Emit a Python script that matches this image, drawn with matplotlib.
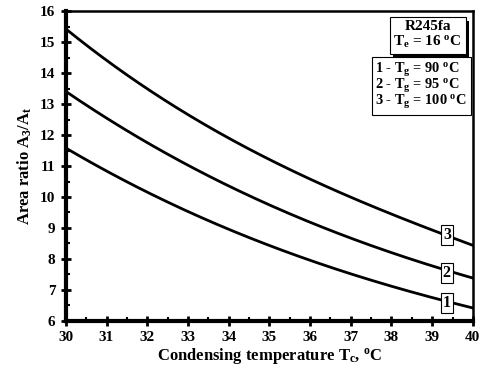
import matplotlib
matplotlib.use("Agg")
import matplotlib.pyplot as plt
import matplotlib.patheffects as pe
from matplotlib.ticker import MultipleLocator
import numpy as np

plt.rcParams['font.family'] = 'Liberation Serif'
plt.rcParams['font.weight'] = 'bold'
plt.rcParams['mathtext.fontset'] = 'custom'
plt.rcParams['mathtext.rm'] = 'Liberation Serif:bold'
plt.rcParams['mathtext.it'] = 'Liberation Serif:bold'
plt.rcParams['mathtext.bf'] = 'Liberation Serif:bold'

# condensing temperature, degC
Tc = [30, 31, 32, 33, 34, 35, 36, 37, 38, 39, 40]
# area ratio A3/At for the three generator temperatures
ratio_90 = [11.57, 10.85, 10.17, 9.53, 8.95, 8.42, 7.96, 7.52, 7.13, 6.76, 6.41]
ratio_95 = [13.40, 12.55, 11.78, 11.02, 10.33, 9.75, 9.19, 8.68, 8.20, 7.78, 7.38]
ratio_100 = [15.42, 14.42, 13.51, 12.65, 11.88, 11.20, 10.60, 10.03, 9.42, 8.92, 8.45]
curve_tags = ['1', '2', '3']
tag_x = 39.36
tag_y = [6.58, 7.56, 8.77]


def smooth(x, y):
    # cubic fit through the read points, just for a clean line
    c = np.polyfit(x, y, 3)
    xs = np.linspace(x[0], x[-1], 200)
    return xs, np.polyval(c, xs)


fig = plt.figure(figsize=(4.84, 3.71), dpi=100)
ax = fig.add_axes([0.136, 0.135, 0.841, 0.835])

for ys in [ratio_90, ratio_95, ratio_100]:
    xs, yy = smooth(Tc, ys)
    ax.plot(xs, yy, color='black', lw=2.0)

for t, yv in zip(curve_tags, tag_y):
    ax.text(tag_x, yv, t, fontsize=11.5, ha='center', va='center', zorder=5,
            bbox=dict(boxstyle='square,pad=0.12', fc='white', ec='black', lw=0.8))

ax.set_xlim(30, 40)
ax.set_ylim(6, 16)
ax.xaxis.set_major_locator(MultipleLocator(1))
ax.xaxis.set_minor_locator(MultipleLocator(0.5))
ax.yaxis.set_major_locator(MultipleLocator(1))
ax.yaxis.set_minor_locator(MultipleLocator(0.5))
ax.tick_params(which='major', direction='inout', length=7, width=2, labelsize=11, pad=4)
ax.tick_params(which='minor', direction='in', length=3, width=1.5)
ax.tick_params(top=False, right=False)
for lbl in ax.get_xticklabels() + ax.get_yticklabels():
    lbl.set_fontweight('bold')

ax.spines['left'].set_linewidth(3)
ax.spines['bottom'].set_linewidth(3)
ax.spines['top'].set_linewidth(1.8)
ax.spines['right'].set_linewidth(1.8)

ax.set_xlabel(r'Condensing temperature T$_c$, $^o$C', fontsize=12, fontweight='bold', labelpad=1)
ax.set_ylabel(r'Area ratio A$_3$/A$_t$', fontsize=12, fontweight='bold', labelpad=4)

# fluid / evaporator box with shadow
t1 = ax.text(0.889, 0.923, 'R245fa\n' + r'T$_e$ = 16 $^o$C', transform=ax.transAxes,
             fontsize=11, ha='center', va='center', linespacing=1.1,
             bbox=dict(boxstyle='square,pad=0.25', fc='white', ec='black', lw=0.8))
t1.get_bbox_patch().set_path_effects([
    pe.SimplePatchShadow(offset=(2.5, -2.5), shadow_rgbFace='black', alpha=1.0),
    pe.Normal()])

ax.text(0.873, 0.758, '1 - T$_g$ = 90 $^o$C\n2 - T$_g$ = 95 $^o$C\n3 - T$_g$ = 100 $^o$C',
        transform=ax.transAxes, fontsize=10.4, ha='center', va='center',
        multialignment='left', linespacing=0.85,
        bbox=dict(boxstyle='square,pad=0.25', fc='white', ec='black', lw=0.8))

fig.savefig('out.png', dpi=100)
